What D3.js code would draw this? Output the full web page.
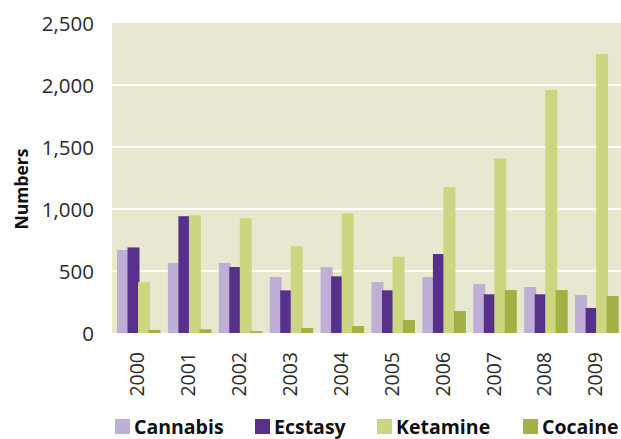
<!DOCTYPE html>
<html><head><meta charset="utf-8">
<script src="https://cdn.jsdelivr.net/npm/d3@7"></script>
<style>body{margin:0;background:#fff}svg{display:block}</style>
</head><body>
<svg id="c" width="621" height="439"></svg>
<script>
const years = ["2000","2001","2002","2003","2004","2005","2006","2007","2008","2009"];
const seriesNames = ["Cannabis","Ecstasy","Ketamine","Cocaine"];
const cannabis = [670,565,565,452,532,411,452,395,371,306];
const ecstasy  = [690,942,532,344,457,344,637,312,312,202];
const ketamine = [410,950,925,699,965,616,1177,1406,1960,2250];
const cocaine  = [25,30,15,40,56,105,177,347,347,298];
const colors = ["#bfaed5","#56308a","#ccd680","#a3b043"];
const yTicks = [0,500,1000,1500,2000,2500];
const series = [cannabis, ecstasy, ketamine, cocaine];

const svg = d3.select("#c");
const L=112, R=621, T=23, B=333;
const x = d3.scaleBand().domain(years).range([L,R]).padding(0);
const y = d3.scaleLinear().domain([0,2500]).range([B,T]);
const font = "'Open Sans', 'Noto Sans', sans-serif";

svg.append("rect").attr("x",L).attr("y",T).attr("width",R-L).attr("height",B-T).attr("fill","#e8e8d0");
svg.append("g").selectAll("line").data(yTicks.filter(d=>d>0&&d<2500)).join("line")
  .attr("x1",L).attr("x2",R).attr("y1",d=>y(d)).attr("y2",d=>y(d))
  .attr("stroke","#fff").attr("stroke-width",2);

const bw = 12, step = 10.5;
series.forEach((vals,si)=>{
  svg.append("g").selectAll("rect").data(vals).join("rect")
    .attr("x",(d,i)=>x(years[i])+5+si*step)
    .attr("y",d=>y(d))
    .attr("width",bw)
    .attr("height",d=>B-y(d))
    .attr("fill",colors[si]);
});

// y axis labels
const ya = d3.axisLeft(y).tickValues(yTicks).tickFormat(d3.format(",")).tickSize(0).tickPadding(0);
const yg = svg.append("g").attr("transform",`translate(94,0)`).call(ya);
yg.select(".domain").remove();
yg.selectAll("text").attr("font-family",font).attr("font-size",20.5).attr("fill","#2a2a2a").attr("dy","0.35em");

// x axis labels
const xa = d3.axisBottom(x).tickSize(0).tickPadding(0);
const xg = svg.append("g").attr("transform",`translate(0,${B})`).call(xa);
xg.select(".domain").remove();
xg.selectAll("text").attr("font-family",font).attr("font-size",19.5).attr("fill","#2a2a2a")
  .attr("transform","rotate(-90)").attr("text-anchor","end").attr("x",-19).attr("y",0).attr("dy","0.35em");

svg.append("text").attr("transform","translate(22,189) rotate(-90)")
  .attr("text-anchor","middle").attr("dy","0.35em")
  .attr("font-family",font).attr("font-weight","bold").attr("font-size",17.5).attr("fill","#111").text("Numbers");

// legend
const legX = [115,255,377,523];
const lg = svg.append("g").selectAll("g").data(seriesNames).join("g")
  .attr("transform",(d,i)=>`translate(${legX[i]},419)`);
lg.append("rect").attr("width",15).attr("height",15).attr("fill",(d,i)=>colors[i]);
lg.append("text").attr("x",19).attr("y",14.5)
  .attr("font-family",font).attr("font-weight","bold").attr("font-size",19.5).attr("fill","#111").text(d=>d);
</script>
</body></html>
